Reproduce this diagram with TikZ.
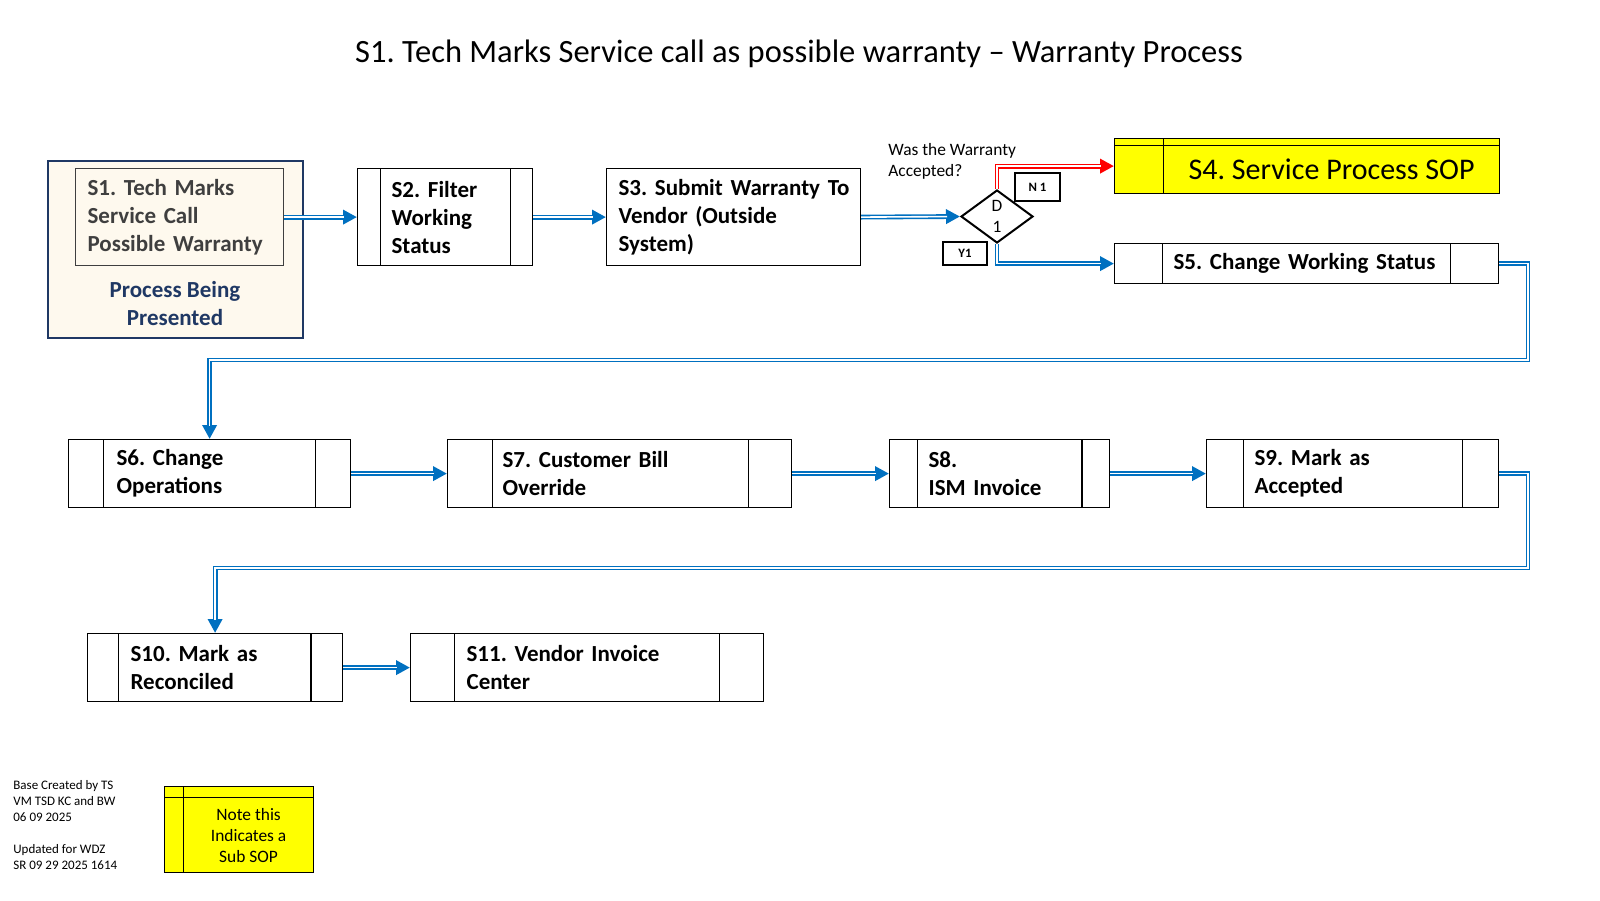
\documentclass[tikz,border=0pt]{standalone}
\usepackage{fontspec}
\setmainfont{Carlito}
\usepackage{xcolor}
\usepackage{tikz}
\usetikzlibrary{shapes.geometric,arrows.meta,positioning}
\frenchspacing

\definecolor{flowblue}{HTML}{0070C0}
\definecolor{flowred}{HTML}{FF0000}
\definecolor{s1navy}{HTML}{1F3864}
\definecolor{s1cream}{HTML}{FEF9EE}
\definecolor{s1gray}{HTML}{3F3F3F}
\definecolor{sopyellow}{HTML}{FFFF00}

\begin{document}
\begin{tikzpicture}[x=0.5pt, y=-0.5pt,
    boxfont/.style={font=\fontsize{11.5}{14}\selectfont\bfseries},
    smallfont/.style={font=\fontsize{8.7}{10.5}\selectfont},
    proc/.style={draw, line width=0.6pt, boxfont, align=left, anchor=north west, inner ysep=0pt},
    bars/.style 2 args={path picture={
        \draw[line width=0.6pt] ([xshift=#1]path picture bounding box.north west) -- ([xshift=#1]path picture bounding box.south west);
        \draw[line width=0.6pt] ([xshift=-#2]path picture bounding box.north east) -- ([xshift=-#2]path picture bounding box.south east);}},
    subsop/.style 2 args={draw, line width=0.6pt, fill=sopyellow, anchor=north west, path picture={
        \draw[line width=0.6pt] ([yshift=-#1]path picture bounding box.north west) -- ([yshift=-#1]path picture bounding box.north east);
        \draw[line width=0.6pt] ([xshift=#2]path picture bounding box.north west) -- ([xshift=#2]path picture bounding box.south west);}},
    tagbox/.style={draw, line width=1pt, font=\fontsize{6.4}{7.5}\selectfont\bfseries, inner sep=0pt},
    conn/.style={draw=#1, line width=2.4pt, -{Triangle[length=7pt,width=7pt]},
        postaction={draw=white, line width=0.8pt, -, shorten >=6.5pt}}]

    \useasboundingbox (0,0) rectangle (1600,900);

    \node[font=\fontsize{16.25}{19}\selectfont] (title) at (799,54) {S1. Tech Marks Service call as possible warranty – Warranty Process};

    \node[draw=s1navy, line width=1.2pt, fill=s1cream, anchor=north west, minimum width=127.5pt, minimum height=88.5pt] (s1) at (47,160) {};
    \node[proc, draw=s1gray, fill=s1cream, text=s1gray, text width=92pt, inner xsep=6pt, minimum height=48.5pt] (s1in) at (75,168) {S1. Tech Marks\\Service Call\\\mbox{Possible Warranty}};
    \node[boxfont, text=s1navy, align=center] (s1cap) at (175,304) {Process Being\\Presented};

    \node[proc, bars={11.5pt}{11pt}, text width=53.5pt, inner xsep=17pt, minimum height=48.5pt] (s2) at (357,168) {S2. Filter\\Working\\Status};
    \node[proc, text width=115pt, inner xsep=6pt, minimum height=48.5pt] (s3) at (606,168) {\mbox{S3. Submit Warranty To}\\Vendor (Outside\\System)};

    \node[draw, diamond, line width=1pt, minimum width=36pt, minimum height=26.5pt, inner sep=0pt, align=center, smallfont] (d1) at (997,216.5) {D\\1};
    \node[smallfont, align=left, anchor=west, inner sep=0pt] (question) at (888,161.5) {Was the Warranty\\Accepted?};
    \node[tagbox, minimum width=22.5pt, minimum height=14pt] (n1) at (1037.5,187) {N 1};
    \node[tagbox, minimum width=22pt, minimum height=11.5pt] (y1) at (965,253.5) {Y1};

    \node[subsop={3.5pt}{24.5pt}, minimum width=192.5pt, minimum height=27.5pt,
        label={[font=\fontsize{15}{18}\selectfont, xshift=12.25pt, yshift=-1.75pt]center:S4. Service Process SOP}] (s4) at (1114,138) {};
    \node[proc, bars={24pt}{24pt}, text width=133pt, inner xsep=29.5pt, minimum height=20pt] (s5) at (1114,243) {S5. Change Working Status};

    \node[proc, bars={17.5pt}{17.5pt}, text width=93pt, inner xsep=24pt, minimum height=34pt] (s6) at (68,439) {S6. Change\\Operations};
    \node[proc, bars={22.5pt}{21.5pt}, text width=117pt, inner xsep=27.5pt, minimum height=34pt] (s7) at (447,439) {S7. Customer Bill\\Override};
    \node[proc, bars={13.75pt}{13.8pt}, text width=71pt, inner xsep=19.5pt, minimum height=34pt] (s8) at (889,439) {S8.\\ISM Invoice};
    \node[proc, bars={18.5pt}{18pt}, text width=98pt, inner xsep=24pt, minimum height=34pt] (s9) at (1206,439) {S9. Mark as\\Accepted};

    \node[proc, bars={15.3pt}{15.8pt}, text width=84.5pt, inner xsep=21.5pt, minimum height=34pt] (s10) at (87,633) {S10. Mark as\\Reconciled};
    \node[proc, bars={22pt}{22pt}, text width=120.5pt, inner xsep=28pt, minimum height=34pt] (s11) at (410,633) {S11. Vendor Invoice\\Center};

    \node[font=\fontsize{6.5}{8}\selectfont, align=left, anchor=west, inner sep=0pt] (credits) at (13,825) {Base Created by TS\\VM TSD KC and BW\\06 09 2025\\[8pt]Updated for WDZ\\SR 09 29 2025 1614};
    \node[subsop={5.5pt}{9.5pt}, minimum width=74.5pt, minimum height=43pt,
        label={[smallfont, align=center, xshift=4.75pt, yshift=-2.75pt]center:{Note this\\Indicates a\\Sub SOP}}] (note) at (164,786) {};

    \coordinate (bend1) at (1528,360);
    \coordinate (bend2) at (1528,568);

    \draw[conn=flowblue] (s1in.east) -- (s2.west);
    \draw[conn=flowblue] (s2.east) -- (s3.west);
    \draw[conn=flowblue] (s3.east) -- (d1.west);
    \draw[conn=flowred] (d1.north) |- (s4.west);
    \draw[conn=flowblue] (d1.south) |- (s5.west);
    \draw[conn=flowblue] (s5.east) -| (bend1) -| (s6.north);
    \draw[conn=flowblue] (s6.east) -- (s7.west);
    \draw[conn=flowblue] (s7.east) -- (s8.west);
    \draw[conn=flowblue] (s8.east) -- (s9.west);
    \draw[conn=flowblue] (s9.east) -| (bend2) -| (s10.north);
    \draw[conn=flowblue] (s10.east) -- (s11.west);
\end{tikzpicture}
\end{document}
